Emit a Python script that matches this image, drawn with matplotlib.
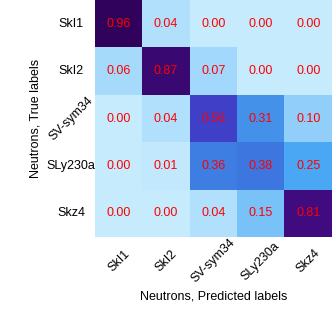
import numpy as np
import matplotlib
matplotlib.use("Agg")
import matplotlib.pyplot as plt
from matplotlib.colors import LinearSegmentedColormap

# confusion matrix values (rows: true, cols: predicted)
labels = ["SkI1", "SkI2", "SV-sym34", "SLy230a", "Skz4"]
row_skI1 = [0.96, 0.04, 0.00, 0.00, 0.00]
row_skI2 = [0.06, 0.87, 0.07, 0.00, 0.00]
row_svsym34 = [0.00, 0.04, 0.56, 0.31, 0.10]
row_sly230a = [0.00, 0.01, 0.36, 0.38, 0.25]
row_skz4 = [0.00, 0.00, 0.04, 0.15, 0.81]

cm = np.array([row_skI1, row_skI2, row_svsym34, row_sly230a, row_skz4])

# light blue -> blue -> dark purple
cmap = LinearSegmentedColormap.from_list("neutrons", [
    (0.00, "#c6ebfd"),
    (0.04, "#b0e0fc"),
    (0.10, "#90cffa"),
    (0.25, "#4aa8f4"),
    (0.37, "#3e7ae1"),
    (0.56, "#4040c8"),
    (0.81, "#400c80"),
    (1.00, "#2e0052"),
])

plt.rcParams["font.family"] = ["Liberation Sans", "DejaVu Sans"]
plt.rcParams["font.size"] = 9

fig = plt.figure(figsize=(3.32, 3.32), dpi=100)
ax = fig.add_axes([95 / 332, 95 / 332, 237 / 332, 237 / 332])
ax.imshow(cm, cmap=cmap, vmin=0, vmax=1, aspect="auto", interpolation="nearest")

for i in range(cm.shape[0]):
    for j in range(cm.shape[1]):
        ax.text(j, i, f"{cm[i, j]:.2f}", ha="center", va="center", color="red", fontsize=9)

ax.set_xticks(range(len(labels)))
ax.set_yticks(range(len(labels)))
ax.set_xticklabels(labels, rotation=45, ha="center", va="center")
ax.set_yticklabels(labels, ha="center", va="center")
for k, t in enumerate(ax.get_yticklabels()):
    if labels[k] == "SV-sym34":
        t.set_rotation(45)
ax.tick_params(length=0, pad=17.3)
for s in ax.spines.values():
    s.set_visible(False)

ax.set_xlabel("Neutrons, Predicted labels")
ax.set_ylabel("Neutrons, True labels")
ax.xaxis.set_label_coords(0.5, -0.224)
ax.yaxis.set_label_coords(-0.224, 0.5)

fig.savefig("out.png", dpi=100)
